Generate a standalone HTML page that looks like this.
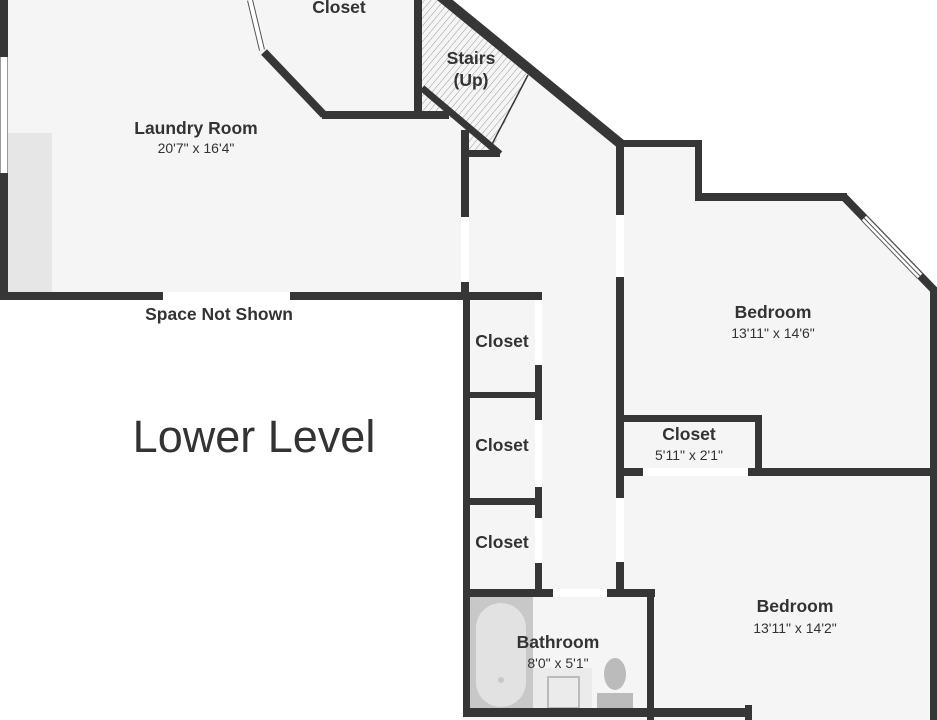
<!DOCTYPE html>
<html><head><meta charset="utf-8"><style>
html,body{margin:0;padding:0;background:#fff;}
svg{display:block;}
text{font-family:"Liberation Sans",sans-serif;fill:#333;text-anchor:middle;}
.b{font-weight:bold;font-size:17.5px;}
.s{font-size:14px;}
</style></head><body>
<svg width="937" height="720" viewBox="0 0 937 720" xmlns="http://www.w3.org/2000/svg">
<defs>
<pattern id="h" width="5" height="5" patternUnits="userSpaceOnUse" patternTransform="rotate(40)">
<rect width="5" height="5" fill="#f5f5f5"/><line x1="0" y1="0" x2="0" y2="5" stroke="#999" stroke-width="1"/>
</pattern>
</defs>
<polygon points="0,0 445,0 620,143 700,143 700,197 845,197 937,290 937,720 463,720 463,300 0,300" fill="#f5f5f5"/>
<rect x="8" y="133" width="44" height="159" fill="#e6e6e6"/>
<polygon points="422,0 443,0 528,75 490,154 465,154 465,118 422,118" fill="url(#h)"/>
<rect x="470" y="597" width="63" height="111" fill="#c8c8c8"/>
<rect x="476" y="603" width="50" height="104" rx="25" fill="#e2e2e2"/>
<circle cx="501" cy="680" r="3" fill="#c8c8c8"/>
<rect x="533" y="668" width="59" height="40" fill="#ebebeb"/>
<rect x="548" y="677" width="31" height="31" fill="none" stroke="#bbb" stroke-width="2"/>
<rect x="597" y="693" width="36" height="15" fill="#bbb"/>
<ellipse cx="615" cy="674" rx="11" ry="16" fill="#bbb"/>
<g fill="#363636" stroke="none">
<rect x="0" y="0" width="8" height="300"/>
<rect x="0" y="292" width="542" height="8"/>
<rect x="414" y="0" width="8" height="119"/>
<rect x="322" y="111" width="127" height="8"/>
<rect x="461" y="130" width="8" height="170"/>
<rect x="463" y="293" width="79" height="7"/>
<rect x="463" y="293" width="7" height="424"/>
<rect x="535" y="293" width="7" height="297"/>
<rect x="463" y="392" width="79" height="6"/>
<rect x="463" y="498" width="79" height="7"/>
<rect x="463" y="589" width="192" height="8"/>
<rect x="647" y="589" width="7" height="131"/>
<rect x="463" y="708" width="289" height="9"/>
<rect x="745" y="705" width="7" height="15"/>
<rect x="616" y="140" width="8" height="457"/>
<rect x="616" y="140" width="84" height="7"/>
<rect x="695" y="140" width="7" height="61"/>
<rect x="695" y="193" width="152" height="8"/>
<rect x="930" y="287" width="7" height="433"/>
<rect x="620" y="415" width="142" height="7"/>
<rect x="755" y="415" width="7" height="60"/>
<rect x="620" y="468" width="317" height="8"/>
<rect x="465" y="150" width="35" height="7"/>
</g>
<g stroke="#363636" fill="none" stroke-linecap="butt">
<line x1="440" y1="-4" x2="622" y2="145" stroke-width="10"/>
<line x1="422" y1="88" x2="500" y2="154" stroke-width="7"/>
<line x1="264" y1="52" x2="324" y2="115" stroke-width="8"/>
<line x1="844" y1="197" x2="935" y2="291" stroke-width="8"/>
<line x1="528" y1="75" x2="490" y2="148" stroke-width="1.5"/>
</g>
<g fill="#fff">
<rect x="0" y="57" width="8" height="116"/>
<rect x="163" y="292" width="127" height="8"/>
<rect x="461" y="217" width="8" height="65"/>
<rect x="616" y="215" width="8" height="62"/>
<rect x="616" y="498" width="8" height="64"/>
<rect x="535" y="300" width="7" height="65"/>
<rect x="535" y="420" width="7" height="67"/>
<rect x="535" y="518" width="7" height="45"/>
<rect x="553" y="589" width="54" height="8"/>
<rect x="643" y="468" width="105" height="8"/>
</g>
<line x1="0.5" y1="57" x2="0.5" y2="173" stroke="#999"/>
<line x1="7.5" y1="57" x2="7.5" y2="173" stroke="#999"/>
<line x1="250" y1="0" x2="262" y2="50" stroke="#555" stroke-width="6"/>
<line x1="250" y1="0" x2="262" y2="50" stroke="#fff" stroke-width="4"/>
<line x1="864" y1="218" x2="920" y2="276" stroke="#555" stroke-width="8"/>
<line x1="864" y1="218" x2="920" y2="276" stroke="#fff" stroke-width="6"/>
<line x1="864" y1="218" x2="920" y2="276" stroke="#555" stroke-width="1"/>
<text class="b" x="339" y="13">Closet</text>
<text class="b" x="471" y="64">Stairs</text>
<text class="b" x="471" y="86">(Up)</text>
<text class="b" x="196" y="134">Laundry Room</text>
<text class="s" x="196" y="153">20'7" x 16'4"</text>
<text class="b" x="219" y="320">Space Not Shown</text>
<text x="254" y="452" style="font-size:45px">Lower Level</text>
<text class="b" x="773" y="318">Bedroom</text>
<text class="s" x="773" y="338">13'11" x 14'6"</text>
<text class="b" x="502" y="347">Closet</text>
<text class="b" x="502" y="451">Closet</text>
<text class="b" x="502" y="548">Closet</text>
<text class="b" x="689" y="440">Closet</text>
<text class="s" x="689" y="460">5'11" x 2'1"</text>
<text class="b" x="795" y="612">Bedroom</text>
<text class="s" x="795" y="633">13'11" x 14'2"</text>
<text class="b" x="558" y="648">Bathroom</text>
<text class="s" x="558" y="668">8'0" x 5'1"</text>
</svg>
</body></html>
